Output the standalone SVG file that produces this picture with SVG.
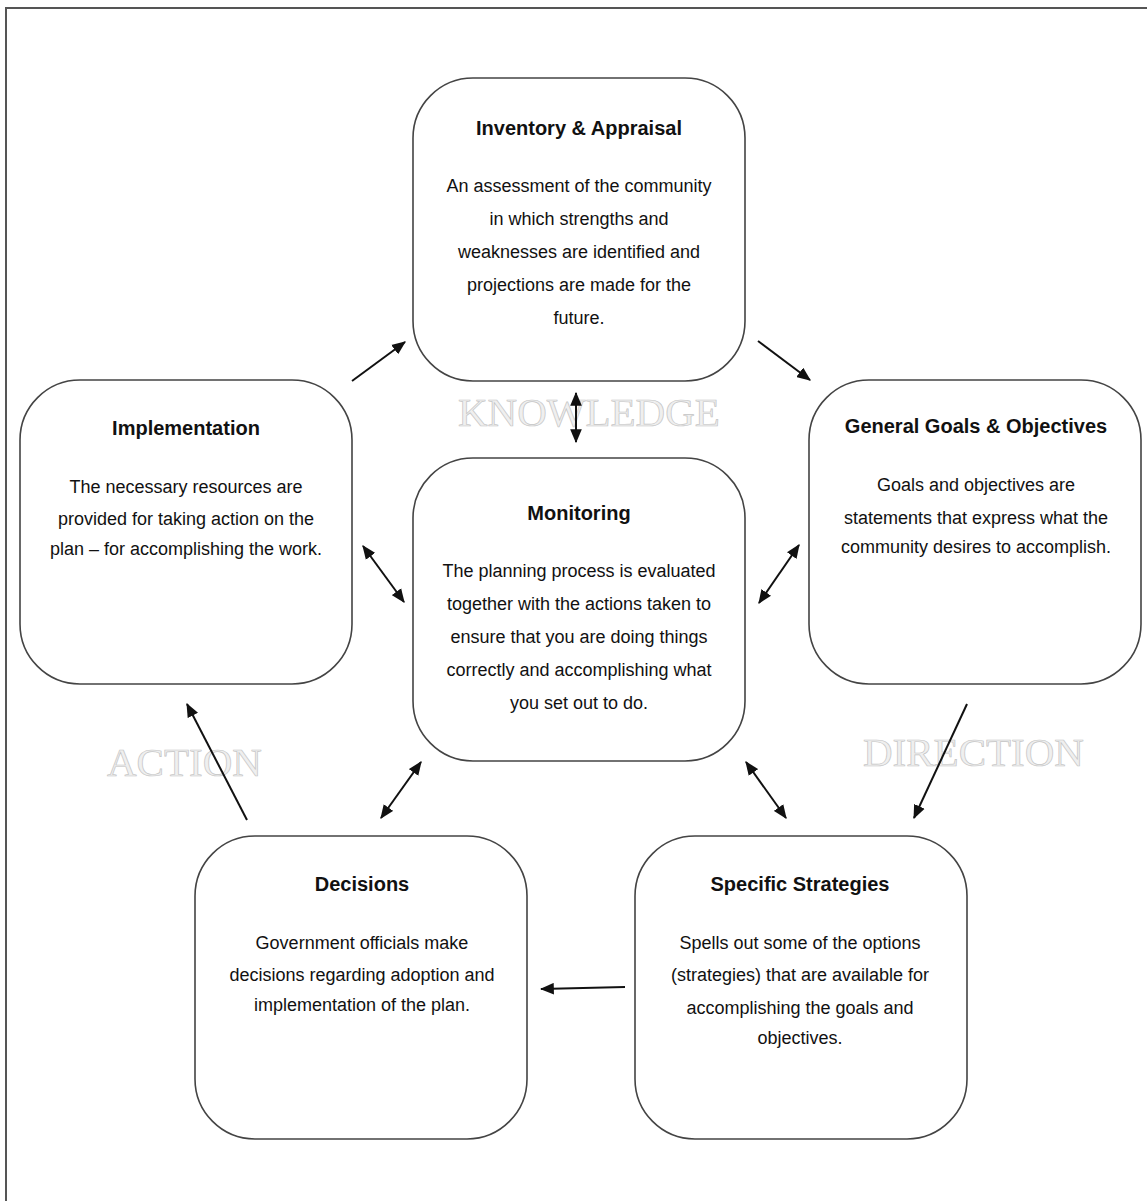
<svg xmlns="http://www.w3.org/2000/svg" width="1147" height="1201" viewBox="0 0 1147 1201">
<style>
.box{fill:#fff;stroke:#444;stroke-width:1.6}
.title{font-family:"Liberation Sans",Arial,sans-serif;font-weight:bold;font-size:20px;fill:#111;text-anchor:middle}
.body{font-family:"Liberation Sans",Arial,sans-serif;font-size:18px;fill:#111;text-anchor:middle}
.wm{font-family:"Liberation Serif","Times New Roman",serif;font-size:41px;fill:#efefef;stroke:#c4c4c4;stroke-width:0.7}
.conn{stroke:#111;stroke-width:2;fill:none}
</style>
<defs>
<marker id="ah" viewBox="0 0 12 10" refX="11" refY="5" markerWidth="14" markerHeight="12" markerUnits="userSpaceOnUse" orient="auto-start-reverse">
<path d="M0,0 L12,5 L0,10 z" fill="#111"/>
</marker>
</defs>
<rect width="1147" height="1201" fill="#fff"/>
<path d="M6,1201 V8 H1147" fill="none" stroke="#555" stroke-width="2"/>

<g id="labels">
<text class="wm" x="458" y="426">KNOWLEDGE</text>
<text class="wm" x="107" y="776">ACTION</text>
<text class="wm" x="863" y="766">DIRECTION</text>
</g>

<g id="inventory">
<rect class="box" x="413" y="78" width="332" height="303" rx="60"/>
<text class="title" x="579" y="135">Inventory &amp; Appraisal</text>
<text class="body" x="579" y="192">An assessment of the community</text>
<text class="body" x="579" y="225">in which strengths and</text>
<text class="body" x="579" y="258">weaknesses are identified and</text>
<text class="body" x="579" y="291">projections are made for the</text>
<text class="body" x="579" y="324">future.</text>
</g>

<g id="implementation">
<rect class="box" x="20" y="380" width="332" height="304" rx="60"/>
<text class="title" x="186" y="435">Implementation</text>
<text class="body" x="186" y="493">The necessary resources are</text>
<text class="body" x="186" y="525">provided for taking action on the</text>
<text class="body" x="186" y="555">plan – for accomplishing the work.</text>
</g>

<g id="goals">
<rect class="box" x="809" y="380" width="332" height="304" rx="60"/>
<text class="title" x="976" y="433">General Goals &amp; Objectives</text>
<text class="body" x="976" y="491">Goals and objectives are</text>
<text class="body" x="976" y="524">statements that express what the</text>
<text class="body" x="976" y="553">community desires to accomplish.</text>
</g>

<g id="monitoring">
<rect class="box" x="413" y="458" width="332" height="303" rx="60"/>
<text class="title" x="579" y="520">Monitoring</text>
<text class="body" x="579" y="577">The planning process is evaluated</text>
<text class="body" x="579" y="610">together with the actions taken to</text>
<text class="body" x="579" y="643">ensure that you are doing things</text>
<text class="body" x="579" y="676">correctly and accomplishing what</text>
<text class="body" x="579" y="709">you set out to do.</text>
</g>

<g id="decisions">
<rect class="box" x="195" y="836" width="332" height="303" rx="60"/>
<text class="title" x="362" y="891">Decisions</text>
<text class="body" x="362" y="949">Government officials make</text>
<text class="body" x="362" y="981">decisions regarding adoption and</text>
<text class="body" x="362" y="1011">implementation of the plan.</text>
</g>

<g id="strategies">
<rect class="box" x="635" y="836" width="332" height="303" rx="60"/>
<text class="title" x="800" y="891">Specific Strategies</text>
<text class="body" x="800" y="949">Spells out some of the options</text>
<text class="body" x="800" y="981">(strategies) that are available for</text>
<text class="body" x="800" y="1014">accomplishing the goals and</text>
<text class="body" x="800" y="1044">objectives.</text>
</g>

<g id="connectors">
<line class="conn" x1="352" y1="381" x2="405" y2="342" marker-end="url(#ah)"/>
<line class="conn" x1="758" y1="341" x2="810" y2="380" marker-end="url(#ah)"/>
<line class="conn" x1="967" y1="704" x2="914" y2="818" marker-end="url(#ah)"/>
<line class="conn" x1="625" y1="987" x2="541" y2="989" marker-end="url(#ah)"/>
<line class="conn" x1="247" y1="820" x2="187" y2="704" marker-end="url(#ah)"/>
<line class="conn" x1="576" y1="393" x2="576" y2="442" marker-start="url(#ah)" marker-end="url(#ah)"/>
<line class="conn" x1="363" y1="546" x2="404" y2="602" marker-start="url(#ah)" marker-end="url(#ah)"/>
<line class="conn" x1="799" y1="545" x2="759" y2="603" marker-start="url(#ah)" marker-end="url(#ah)"/>
<line class="conn" x1="421" y1="762" x2="381" y2="818" marker-start="url(#ah)" marker-end="url(#ah)"/>
<line class="conn" x1="746" y1="762" x2="786" y2="818" marker-start="url(#ah)" marker-end="url(#ah)"/>
</g>
</svg>
